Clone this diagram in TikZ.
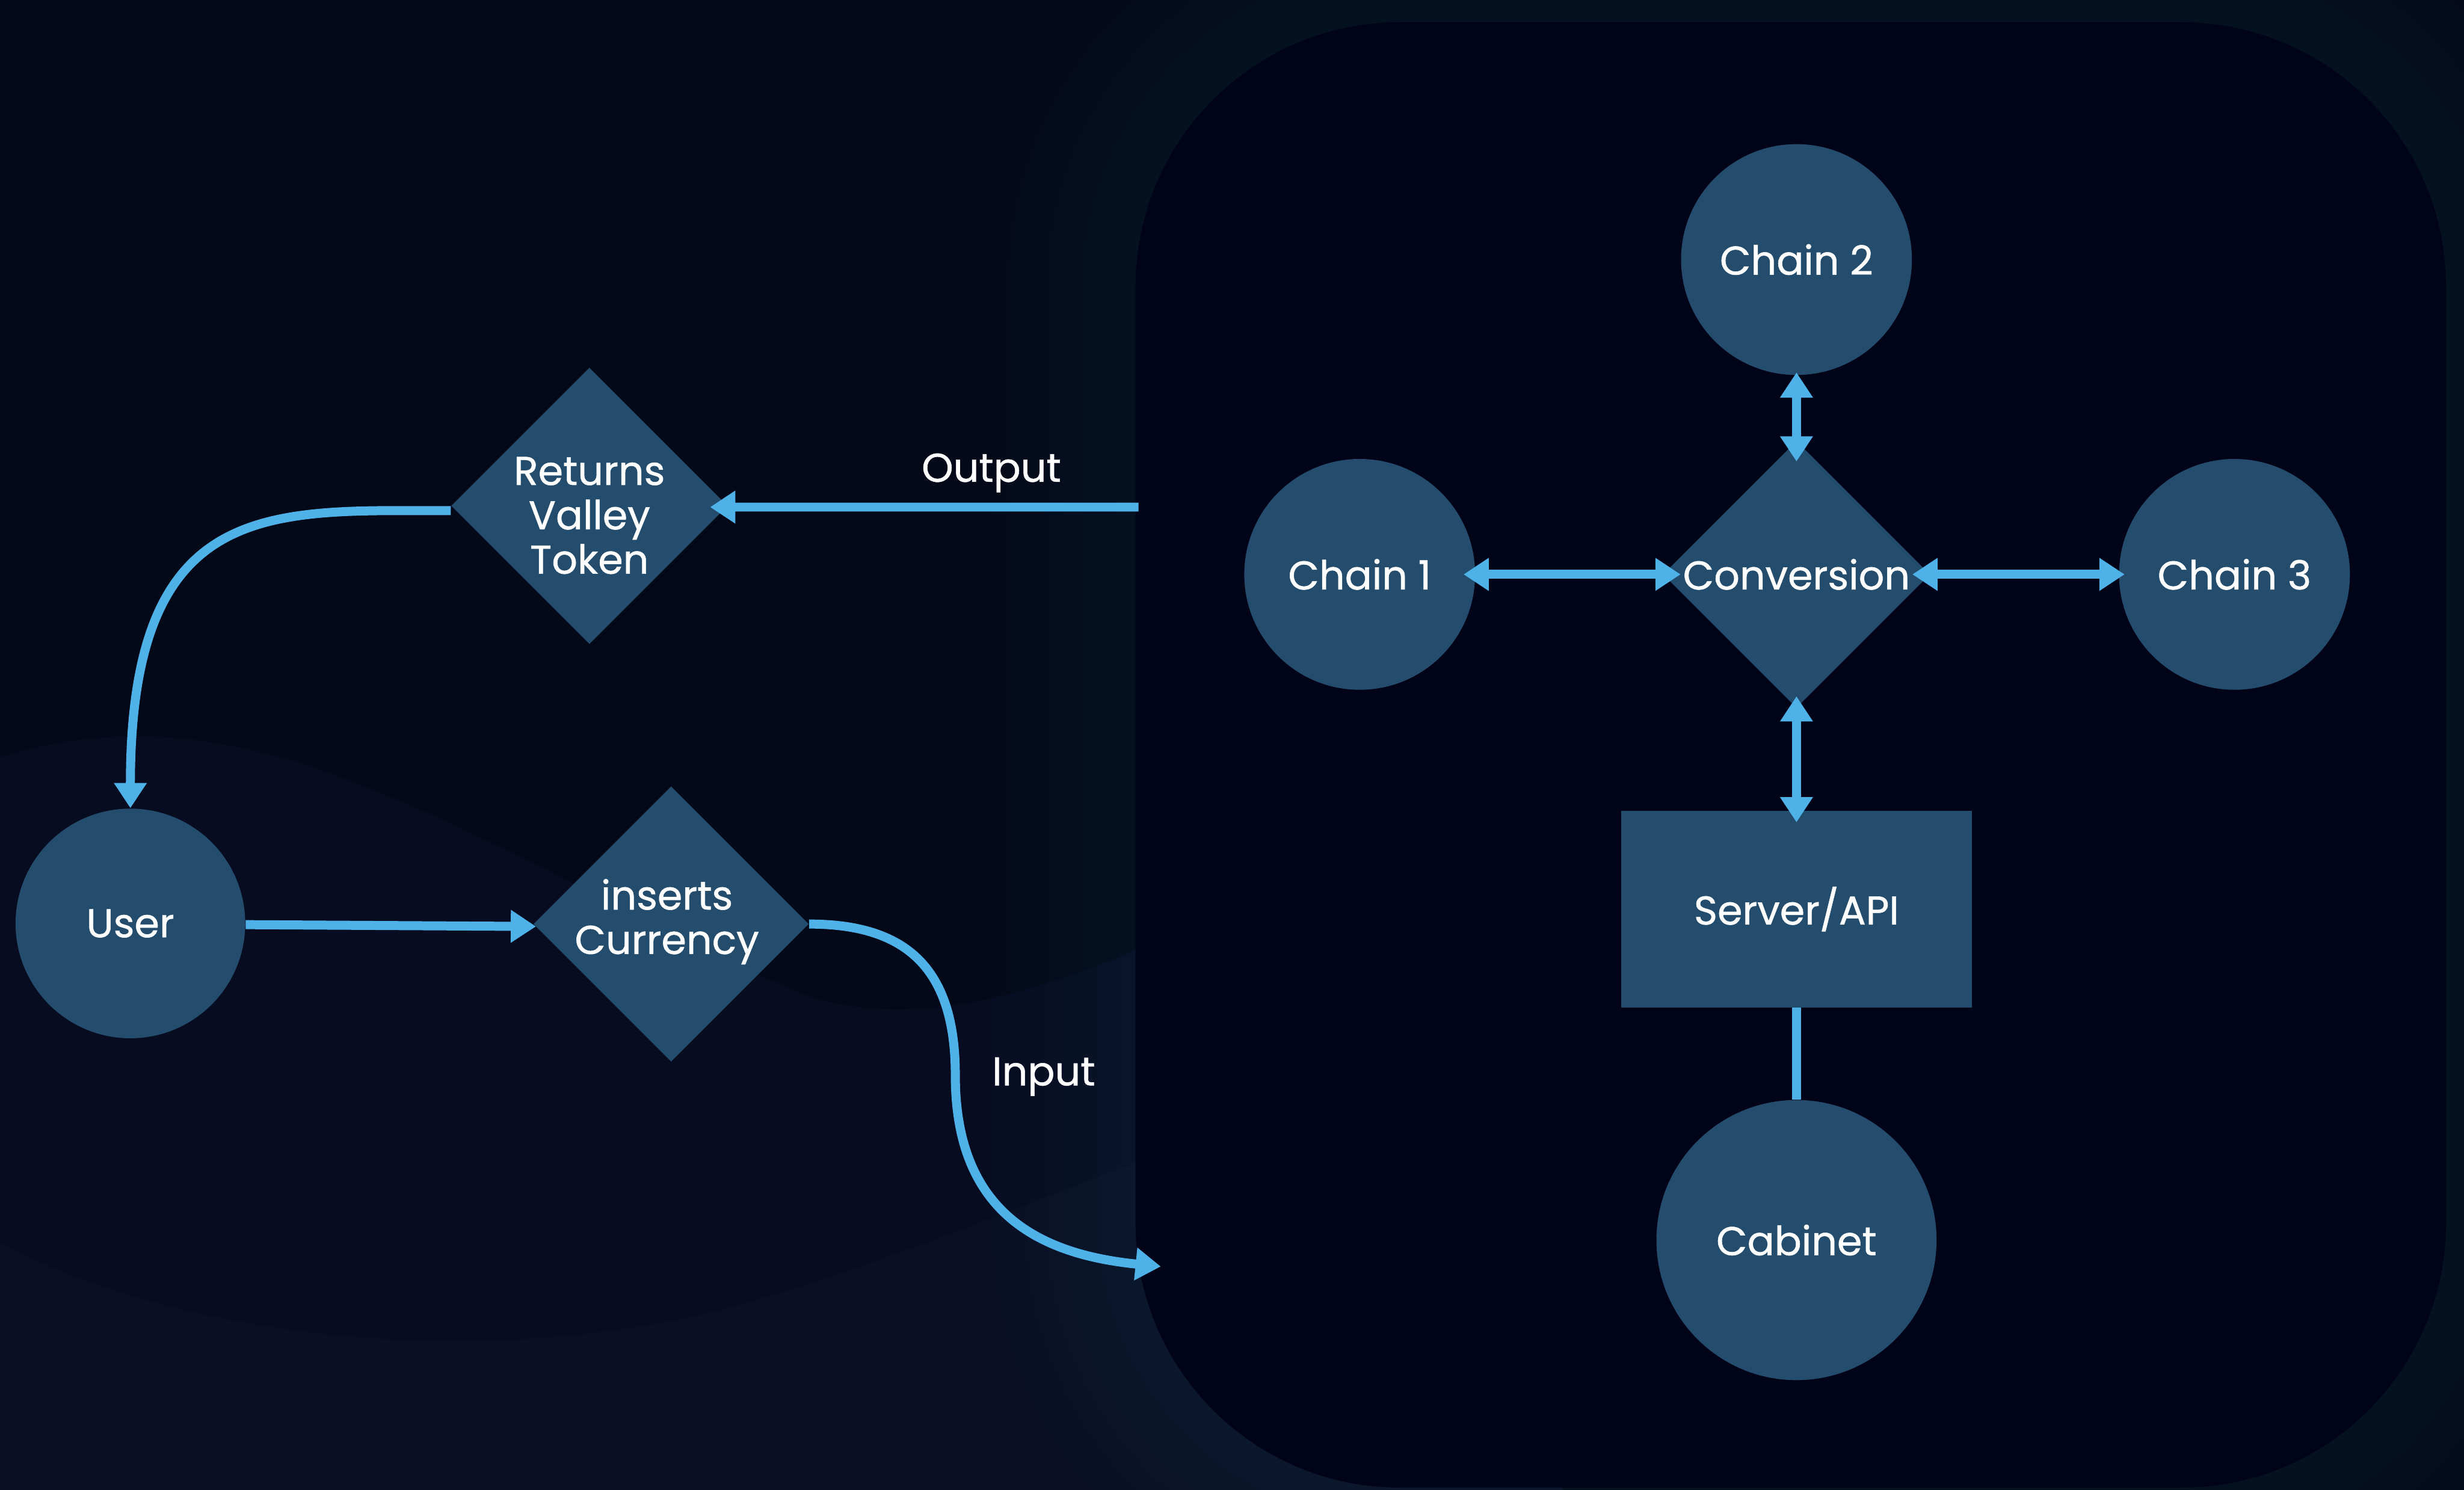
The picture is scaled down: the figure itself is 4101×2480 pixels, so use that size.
\documentclass[tikz,border=0pt]{standalone}
\usepackage{fontspec}
\setmainfont{Poppins}
\newfontfamily\labelfont{Poppins}[FakeBold=0.8]
\usetikzlibrary{arrows.meta,shapes.geometric}
\definecolor{bgbase}{HTML}{040919}
\definecolor{bgband}{HTML}{070C21}
\definecolor{bglow}{HTML}{0A0F24}
\definecolor{panelfill}{HTML}{010318}
\definecolor{glowtint}{HTML}{1A3550}
\definecolor{nodefill}{HTML}{244C6C}
\definecolor{flow}{HTML}{4EB1E8}
\tikzset{
  shape base/.style={fill=nodefill, draw=none, text=white, font=\labelfont\fontsize{19}{21}\selectfont, align=center, inner sep=0pt},
  roundnode/.style={shape base, circle, minimum size=#1},
  decision/.style={shape base, diamond, minimum width=#1, minimum height=#1},
  boxnode/.style={shape base, rectangle, minimum width=5.83cm, minimum height=3.27cm},
  flowline/.style={draw=flow, line width=0.15cm},
  tip/.style={-{Triangle[length=0.42cm,width=0.52cm]}},
  twotips/.style={{Triangle[length=0.42cm,width=0.52cm]}-{Triangle[length=0.42cm,width=0.52cm]}},
  flowlabel/.style={text=white, font=\labelfont\fontsize{19}{21}\selectfont}
}
\begin{document}
\begin{tikzpicture}[x=0.01cm, y=-0.01cm]
% canvas
\fill[bgbase] (0,0) rectangle (4101,2480);
\useasboundingbox (0,0) rectangle (4101,2480);
% soft waves in the backdrop
\fill[bgband] (0,1260) .. controls (150,1215) and (300,1210) .. (500,1270)
  .. controls (800,1370) and (1100,1560) .. (1350,1660)
  .. controls (1550,1720) and (1800,1640) .. (2100,1480) -- (2600,1480) -- (2600,2480) -- (0,2480) -- cycle;
\fill[bglow] (0,2068) .. controls (300,2230) and (800,2280) .. (1200,2180)
  .. controls (1500,2100) and (1800,1960) .. (2100,1860) -- (2600,1860) -- (2600,2480) -- (0,2480) -- cycle;
% halo behind the panel
\foreach \g in {1,...,8}{
  \fill[glowtint, opacity=0.035, rounded corners=4.4cm+\g*0.3cm]
    (1890-\g*30,37-\g*30) rectangle (4071+\g*30,2476+\g*30);
}
% panel
\fill[panelfill, rounded corners=4.4cm] (1890,37) rectangle (4071,2476);

% nodes
\node[roundnode=3.84cm] (chain2) at (2990,432) {Chain 2};
\node[roundnode=3.84cm] (chain1) at (2263,956) {Chain 1};
\node[roundnode=3.84cm] (chain3) at (3719,956) {Chain 3};
\node[decision=4.44cm] (conv) at (2990,956) {Conversion};
\node[boxnode] (server) at (2990,1513) {Server/API};
\node[roundnode=4.66cm] (cabinet) at (2990,2064) {Cabinet};
\node[roundnode=3.82cm] (user) at (217,1537) {User};
\node[decision=4.6cm] (ret) at (981,842) {};
\node[decision=4.58cm] (ins) at (1117,1538) {};
\node[shape base, fill=none] (rettext) at (981,858) {Returns\\Valley\\Token};
\node[shape base, fill=none] (instext) at (1110,1534) {inserts\\Currency};

% free ends on the panel edge
\coordinate (outstart) at (1895,844);
\coordinate (inend) at (1932,2108);

% connectors
\draw[flowline, tip, shorten >=-0.3cm] (outstart) -- ([yshift=-0.02cm]ret.east);
\draw[flowline, tip] ([yshift=-0.08cm]ret.west) .. controls +(-300,0) and +(0,-520) .. (user.north);
\draw[flowline, tip, shorten >=-0.05cm] ([yshift=-0.02cm]user.east) -- ([yshift=-0.04cm]ins.west);
\draw[flowline, tip] (ins.east) .. controls +(170,0) and +(0,-170) .. (1590,1790)
  .. controls +(0,230) and +(-200,-20) .. (inend);
\draw[flowline, twotips, shorten <=-0.2cm, shorten >=-0.3cm] (chain1.east) -- (conv.west);
\draw[flowline, twotips, shorten <=-0.3cm, shorten >=-0.1cm] (conv.east) -- (chain3.west);
\draw[flowline, twotips, shorten <=-0.05cm, shorten >=-0.35cm] (chain2.south) -- (conv.north);
\draw[flowline, twotips, shorten <=-0.2cm, shorten >=-0.2cm] (conv.south) -- (server.north);
\draw[flowline] (server.south) -- (cabinet.north);

% labels on the flows
\node[flowlabel] (outlabel) at (1650,787) {Output};
\node[flowlabel] (inlabel) at (1737,1792) {Input};
\end{tikzpicture}
\end{document}
